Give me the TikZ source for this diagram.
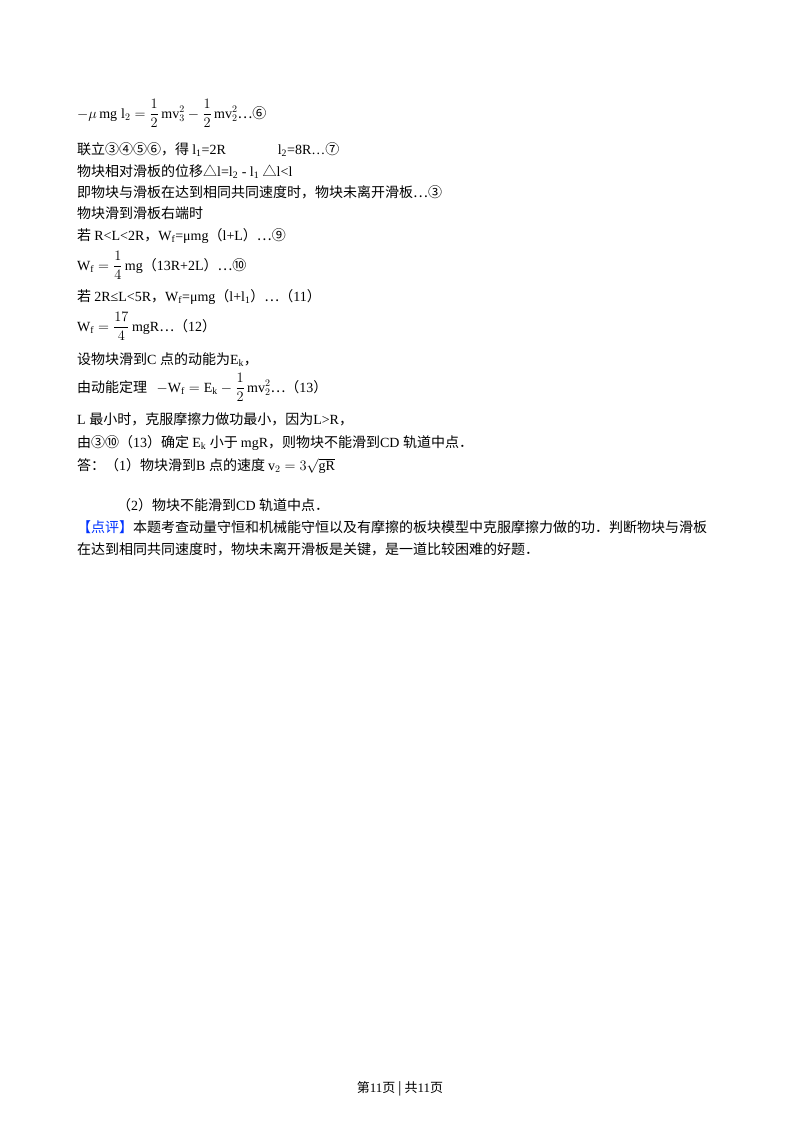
\documentclass[tikz,border=0pt]{standalone}
\usepackage{amsmath}
\usepackage{fontspec}
\setmainfont{Liberation Serif}
\newfontfamily\cjk{Noto Sans CJK SC}
\begin{document}
\begin{tikzpicture}[x=1pt,y=-1pt,
  ln/.style={anchor=base west,inner sep=0pt,font=\fontsize{14}{16}\selectfont}]
\useasboundingbox[fill=white] (0,0) rectangle (800,1132);
\node[ln] (l1) at (77,118) {$-\mu\,\mathrm{mg}\;\mathrm{l}_2=\dfrac{1}{2}\,\mathrm{m}\mathrm{v}_3^2-\dfrac{1}{2}\,\mathrm{m}\mathrm{v}_2^2$\cjk …⑥};
\node[ln] (l2) at (77,154) {\cjk 联立③④⑤⑥，得 \rm l\textsubscript{1}=2R\hspace{52pt}l\textsubscript{2}=8R…\cjk ⑦};
\node[ln] (l3) at (77,176) {\cjk 物块相对滑板的位移△\rm l=l\textsubscript{2} - l\textsubscript{1} \cjk △\rm l<l};
\node[ln] (l4) at (77,197) {\cjk 即物块与滑板在达到相同共同速度时，物块未离开滑板…③};
\node[ln] (l5) at (77,218) {\cjk 物块滑到滑板右端时};
\node[ln] (l6) at (77,240) {\cjk 若 \rm R<L<2R\cjk ，\rm W\textsubscript{f}=μmg\cjk （\rm l+L\cjk ）…⑨};
\node[ln] (l7) at (77,270) {$\mathrm{W}_{\mathrm f}=\dfrac{1}{4}\,\mathrm{mg}$\cjk （\rm 13R+2L\cjk ）…⑩};
\node[ln] (l8) at (77,301) {\cjk 若 \rm 2R≤L<5R\cjk ，\rm W\textsubscript{f}=μmg\cjk （\rm l+l\textsubscript{1}\cjk ）…（\rm 11\cjk ）};
\node[ln] (l9) at (77,331) {$\mathrm{W}_{\mathrm f}=\dfrac{17}{4}\,\mathrm{mgR}$\cjk …（\rm 12\cjk ）};
\node[ln] (l10) at (77,364) {\cjk 设物块滑到\rm C \cjk 点的动能为\rm E\textsubscript{k}\cjk ，};
\node[ln] (l11) at (77,392) {\cjk 由动能定理 \ \ $-\mathrm{W}_{\mathrm f}=\mathrm{E}_{\mathrm k}-\dfrac{1}{2}\,\mathrm{m}\mathrm{v}_2^2$\cjk …（\rm 13\cjk ）};
\node[ln] (l12) at (77,424) {\rm L \cjk 最小时，克服摩擦力做功最小，因为\rm L>R\cjk ，};
\node[ln] (l13) at (77,447) {\cjk 由③⑩（\rm 13\cjk ）确定 \rm E\textsubscript{k} \cjk 小于 \rm mgR\cjk ，则物块不能滑到\rm CD \cjk 轨道中点．};
\node[ln] (l14) at (77,470) {\cjk 答：（\rm 1\cjk ）物块滑到\rm B \cjk 点的速度 $\mathrm{v}_2=3\sqrt{\mathrm{gR}}$};
\node[ln] (l15) at (117,510) {\cjk （\rm 2\cjk ）物块不能滑到\rm CD \cjk 轨道中点．};
\node[ln] (l16) at (77,532) {\cjk\textcolor{blue!80!cyan}{【点评】}本题考查动量守恒和机械能守恒以及有摩擦的板块模型中克服摩擦力做的功．判断物块与滑板};
\node[ln] (l17) at (77,554) {\cjk 在达到相同共同速度时，物块未离开滑板是关键，是一道比较困难的好题．};
\node[anchor=base,inner sep=0pt,font=\fontsize{13}{15}\selectfont] (ft) at (400,1092) {\cjk 第\rm 11\cjk 页 | 共\rm 11\cjk 页};
\end{tikzpicture}
\end{document}
